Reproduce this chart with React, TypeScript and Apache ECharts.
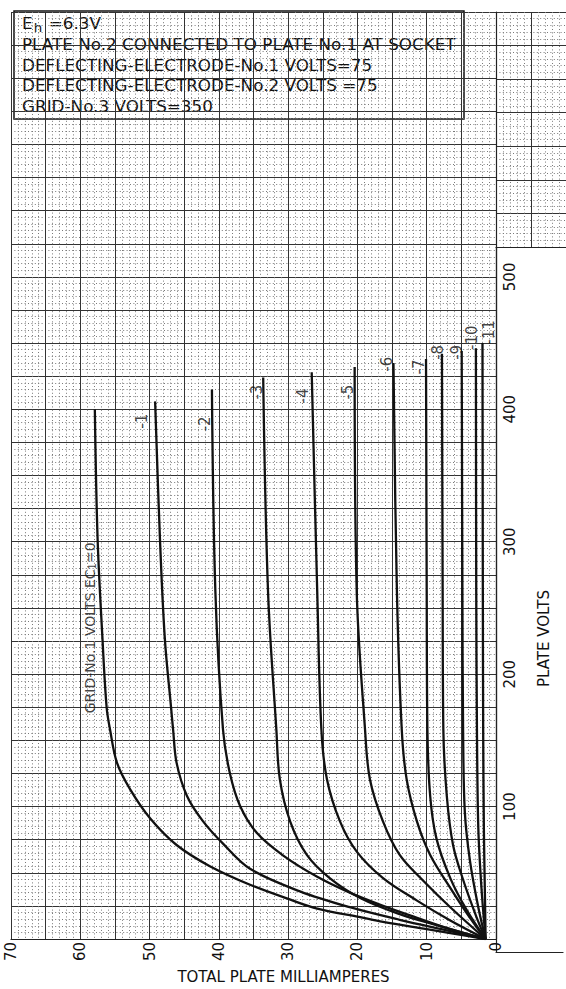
import React, { useEffect, useRef } from 'react';
import * as echarts from 'echarts';

const FONT = '"DejaVu Sans", "Liberation Sans", sans-serif';
const INK = '#111111';

// ---- tick labels ----
const maTicks = [0, 10, 20, 30, 40, 50, 60, 70];
const voltTicks = [100, 200, 300, 400, 500];

// ---- title block ----
const titleHead = 'E{h|h} =6.3V';
const titleLines = [
  'PLATE No.2 CONNECTED TO PLATE No.1 AT SOCKET',
  'DEFLECTING-ELECTRODE-No.1 VOLTS=75',
  'DEFLECTING-ELECTRODE-No.2 VOLTS =75',
  'GRID-No.3 VOLTS=350',
];

// ---- curves: [total plate mA, plate volts] ----
const curveEc0: [number, number][] = [[1.5, 0], [6.6, 4.5], [10, 7.5], [16.3, 13], [19.6, 16.5], [25.8, 23], [29.3, 29], [35.5, 41], [41.3, 55], [46.1, 71], [49.9, 91], [52.8, 113], [54.7, 133], [55.7, 158], [56.2, 175], [56.8, 227], [57.5, 302], [57.9, 400]];
const curveEc1: [number, number][] = [[1.5, 0], [6.6, 6], [13.9, 14.5], [21.1, 24], [28.3, 36], [35.5, 53], [39.4, 72], [42.3, 89], [44.6, 108], [46.1, 133], [46.6, 158], [46.9, 175], [47.8, 227], [48.5, 302], [49.2, 406]];
const curveEc2: [number, number][] = [[1.5, 0], [6.6, 7.5], [11.4, 16], [16.3, 25], [21.1, 35], [25.8, 47], [30.7, 63], [34.5, 80], [36.9, 100], [38.4, 125], [39.4, 158], [40.5, 262], [41.0, 415]];
const curveEc3: [number, number][] = [[1.5, 0], [8.6, 10.5], [13.9, 18.8], [19.6, 31], [24, 46], [27.3, 63.5], [29.7, 88.6], [31.2, 120.7], [31.7, 158], [32.9, 262], [33.6, 424]];
const curveEc4: [number, number][] = [[1.5, 0], [6.6, 14], [11.4, 29], [16.3, 46], [20.1, 66], [22.5, 88.6], [24.4, 120.7], [25.2, 158], [25.8, 262], [26.6, 428]];
const curveEc5: [number, number][] = [[1.5, 0], [6.6, 24], [10.5, 44], [13.9, 63.5], [16.3, 88.6], [18.2, 120.7], [18.9, 158], [20.1, 262], [20.4, 432]];
const curveEc6: [number, number][] = [[1.5, 0], [3.75, 16], [6.6, 38.7], [9.5, 63.5], [11.4, 88.6], [12.9, 120.7], [13.6, 158], [14.3, 262], [14.8, 435]];
const curveEc7: [number, number][] = [[1.5, 0], [4.2, 21.6], [6.6, 46], [8.6, 76], [9.5, 108], [9.9, 158], [10.0, 262], [10.1, 438]];
const curveEc8: [number, number][] = [[1.5, 0], [2.8, 16.4], [4.7, 44], [6.2, 71], [7.1, 108], [7.6, 158], [7.7, 262], [7.8, 442]];
const curveEc9: [number, number][] = [[1.5, 0], [2.55, 23.8], [3.75, 58.8], [4.5, 96], [4.75, 158], [4.85, 262], [4.95, 444]];
const curveEc10: [number, number][] = [[1.5, 0], [2.1, 38.7], [2.55, 83.4], [2.75, 158], [2.85, 262], [2.9, 446]];
const curveEc11: [number, number][] = [[1.5, 0], [1.6, 33.7], [1.75, 83.4], [1.85, 158], [1.9, 262], [1.95, 450]];

const curves = [curveEc0, curveEc1, curveEc2, curveEc3, curveEc4, curveEc5, curveEc6, curveEc7, curveEc8, curveEc9, curveEc10, curveEc11];
const gridVolts = ['0', '-1', '-2', '-3', '-4', '-5', '-6', '-7', '-8', '-9', '-10', '-11'];

// ---- curve labels: [mA, volts, text] ----
const curveLabels: [number, number, string][] = [
  [51.1, 391, '-1'], [42.0, 389, '-2'], [34.5, 413, '-3'], [27.9, 410, '-4'], [21.4, 413, '-5'],
  [15.7, 434, '-6'], [11.1, 432, '-7'], [8.4, 443, '-8'], [5.6, 443, '-9'], [3.5, 454, '-10'], [1.0, 458, '-11'],
];
const ec0Label: [number, number, string] = [58.6, 235, 'GRID-No.1 VOLTS EC{s|1}=0'];

export default function App() {
  const ref = useRef<HTMLDivElement>(null);
  useEffect(() => {
    if (!ref.current) return;
    const chart = echarts.init(ref.current, undefined, { renderer: 'svg' });
    const major = { color: '#333333', width: 1 };
    const minor = { color: '#7a7a7a', width: 1, type: [1, 2.4] as any };
    const hiddenAxisBits = { axisTick: { show: false }, axisLabel: { show: false } };

    const lineSeries = curves.map((c, i) => ({
      type: 'line',
      name: 'Ec1=' + gridVolts[i],
      xAxisIndex: 0,
      yAxisIndex: 0,
      data: c,
      showSymbol: false,
      smooth: 0.35,
      lineStyle: { color: INK, width: 2.3 },
      z: 3,
      silent: true,
    }));

    const option: any = {
      animation: false,
      backgroundColor: '#ffffff',
      grid: [
        { left: 11, right: 70, top: 12, bottom: 37 },
        { left: 496, right: 0, top: 12, height: 235 },
        { left: 496, width: 67, top: 247, bottom: 37 },
      ],
      xAxis: [
        {
          gridIndex: 0, type: 'value', min: 0, max: 70, interval: 5, inverse: true,
          axisLine: { show: true, lineStyle: { color: '#222', width: 1.2 } },
          axisTick: { show: false },
          axisLabel: {
            rotate: 90, margin: 3, fontSize: 15, fontFamily: FONT, color: INK,
            formatter: (v: number) => (maTicks.includes(v) ? String(v) : ''),
          },
          splitLine: { show: true, lineStyle: major },
          minorTick: { show: false, splitNumber: 5 },
          minorSplitLine: { show: true, lineStyle: minor },
          name: 'TOTAL PLATE MILLIAMPERES', nameLocation: 'middle', nameGap: 21,
          nameTextStyle: { fontSize: 15, fontFamily: FONT, color: INK, padding: [0, 0, 0, 60] },
        },
        {
          gridIndex: 1, type: 'value', min: -10, max: 0, interval: 5, inverse: true,
          axisLine: { show: true, lineStyle: { color: '#222', width: 1.2 } },
          ...hiddenAxisBits,
          splitLine: { show: true, lineStyle: major },
          minorTick: { show: false, splitNumber: 5 },
          minorSplitLine: { show: true, lineStyle: minor },
        },
        {
          gridIndex: 2, type: 'value', min: 0, max: 1,
          axisLine: { show: true, lineStyle: { color: '#222', width: 1.2 } },
          ...hiddenAxisBits,
          splitLine: { show: false },
        },
      ],
      yAxis: [
        {
          gridIndex: 0, type: 'value', min: 0, max: 700, interval: 25, position: 'right',
          axisLine: { show: true, lineStyle: { color: '#222', width: 1.2 } },
          axisTick: { show: false },
          axisLabel: {
            rotate: 90, margin: 6, fontSize: 15, fontFamily: FONT, color: INK,
            formatter: (v: number) => (voltTicks.includes(v) ? String(v) : ''),
          },
          splitLine: { show: true, lineStyle: major },
          minorTick: { show: false, splitNumber: 5 },
          minorSplitLine: { show: true, lineStyle: minor },
          name: 'PLATE VOLTS', nameLocation: 'middle', nameRotate: 90, nameGap: 40,
          nameTextStyle: { fontSize: 15, fontFamily: FONT, color: INK, padding: [0, 326, 0, 0] },
        },
        {
          gridIndex: 1, type: 'value', min: 525, max: 700, interval: 25,
          axisLine: { show: false },
          ...hiddenAxisBits,
          splitLine: { show: true, lineStyle: major },
          minorTick: { show: false, splitNumber: 5 },
          minorSplitLine: { show: true, lineStyle: minor },
        },
        {
          gridIndex: 2, type: 'value', min: 0, max: 1, position: 'right',
          axisLine: { show: true, lineStyle: { color: '#222', width: 1.2 } },
          ...hiddenAxisBits,
          splitLine: { show: false },
        },
      ],
      series: [
        ...lineSeries,
        {
          type: 'scatter', xAxisIndex: 0, yAxisIndex: 0, symbolSize: 0, silent: true, z: 5,
          data: curveLabels,
          label: {
            show: true, position: 'inside', rotate: 90, fontSize: 15, fontFamily: FONT, color: INK,
            formatter: (p: any) => p.data[2],
          },
        },
        {
          type: 'scatter', xAxisIndex: 0, yAxisIndex: 0, symbolSize: 0, silent: true, z: 5,
          data: [ec0Label],
          label: {
            show: true, position: 'inside', rotate: 90, fontSize: 14, fontFamily: FONT, color: INK,
            formatter: (p: any) => p.data[2],
            rich: { s: { fontSize: 10, fontFamily: FONT, color: INK, padding: [6, 0, 0, 0] } },
          },
        },
      ],
      graphic: [
        {
          type: 'group', z: 100,
          children: [
            {
              type: 'rect', shape: { x: 14, y: 11, width: 450, height: 108 },
              style: { fill: '#ffffff', stroke: '#111', lineWidth: 1.5 },
            },
            {
              type: 'text', x: 22, y: 24, scaleX: 1.12,
              style: {
                text: titleHead, fill: INK, fontSize: 15, fontFamily: FONT, verticalAlign: 'middle',
                rich: { h: { fontSize: 12, fontFamily: FONT, fill: INK, padding: [8, 1, 0, 1] } },
              },
            },
            ...titleLines.map((t, i) => ({
              type: 'text', x: 22, y: 45 + i * 20.6, scaleX: 1.12,
              style: { text: t, fill: INK, fontSize: 15, fontFamily: FONT, verticalAlign: 'middle' },
            })),
          ],
        },
      ],
    };
    chart.setOption(option);
    return () => chart.dispose();
  }, []);
  return (
    <div
      ref={ref}
      style={{ position: 'absolute', left: 0, top: 0, width: 566, height: 989, background: '#fff' }}
    />
  );
}
